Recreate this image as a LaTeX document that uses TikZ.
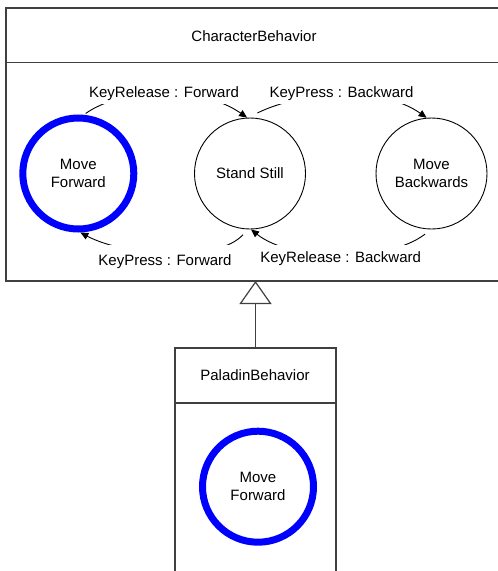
\documentclass[tikz,border=0pt]{standalone}
\usepackage{fontspec}
\setmainfont{Liberation Sans}
\usetikzlibrary{arrows.meta,calc}
\definecolor{framegray}{RGB}{64,64,64}
\begin{document}
\begin{tikzpicture}[x=1pt,y=-1pt,
  every node/.style={font=\fontsize{15}{18}\selectfont},
  frame/.style={draw=framegray, line width=1.2pt},
  box/.style={frame, rectangle, inner sep=0pt, outer sep=0pt, anchor=north west},
  state/.style={circle, draw=black, line width=0.9pt, minimum size=111pt, inner sep=0pt, align=center, fill=white},
  active/.style={state, draw=blue, line width=7pt},
  lbl/.style={fill=white, inner xsep=1pt, inner ysep=0pt, anchor=base},
  trans/.style={draw=black, line width=0.9pt, -{Triangle[length=8pt,width=7pt]}},
]
\useasboundingbox (0,0) rectangle (498,571);
\clip (0,0) rectangle (498,571);

% outer class box
\node[box, minimum width=496pt, minimum height=273pt] (cb) at (6,8) {};
\draw[frame] (6,62.5) -- (502,62.5);
\node (cbt) at (254,36) {CharacterBehavior};

% sub class box
\node[box, minimum width=161pt, minimum height=240pt] (pb) at (175,348) {};
\draw[frame] (175,403) -- (336,403);
\node (pbt) at (255,375) {PaladinBehavior};

% generalization
\draw[frame, -{Triangle[open, length=23pt, width=32pt, fill=white]}] (pb.north) -- (pb.north |- cb.south);

% states
\node[active] (mf) at (78.3,173.5) {Move\\Forward};
\node[state] (ss) at (250,173.5) {Stand Still};
\node[state] (mb) at (431.5,173.5) {Move\\Backwards};
\node[active] (pmf) at (258,486.7) {Move\\Forward};

% transitions
\draw[trans] ($(mf)+(83:60.5pt)$) .. controls +(35,-25) and +(-47,-33) .. (ss.93);
\draw[trans] ($(ss)+(83:61pt)$) .. controls +(45,-22) and +(-45,-32) .. (mb.95);
\draw[trans] ($(ss)+(263.5:61.5pt)$) .. controls +(-25,28) and +(45,24) .. (mf.272);
\draw[trans] ($(mb)+(263.9:61pt)$) .. controls +(-38,29) and +(40,32) .. (ss.271);

% transition labels
\node[lbl, text height=12pt, text depth=7pt] (l1) at (164,97) {KeyRelease : Forward};
\node[lbl, text height=12pt, text depth=7pt] (l2) at (341.5,97) {KeyPress : Backward};
\node[lbl, text height=20.7pt, text depth=4pt] (l3) at (165,265.7) {KeyPress : Forward};
\node[lbl, text height=17.3pt, text depth=4pt] (l4) at (340.7,262.3) {KeyRelease : Backward};
\end{tikzpicture}
\end{document}
